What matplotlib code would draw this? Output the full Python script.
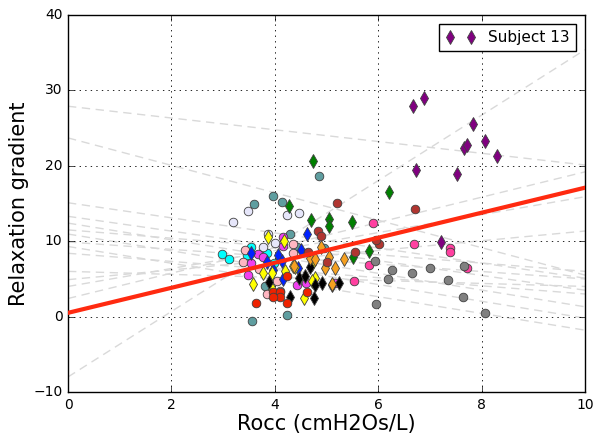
import matplotlib
matplotlib.use("Agg")
import matplotlib.pyplot as plt

plt.style.use("classic")
plt.rcParams['font.family'] = ['DejaVu Sans']

# ---- data -------------------------------------------------------------
# per-subject regression lines (value at Rocc=0 and Rocc=10)
line_y_at0 = [-8.0, 27.9, 23.7, 15.1, 13.3, 12.4, 11.5, 10.95, 9.9, 9.3, 8.4, 6.0, 4.9, 4.0, 2.4]
line_y_at10 = [35.4, 20.1, 5.5, 5.1, 3.5, 1.3, 6.0, -0.2, 5.0, -1.8, 3.0, 4.0, 11.35, 15.9, 19.2]

# overall regression line
fit_y_at0 = 0.5
fit_y_at10 = 17.1

cyan_x = [2.97, 3.12, 3.53, 3.84, 3.46, 3.99]
cyan_y = [8.35, 7.64, 9.19, 8.40, 8.17, 7.07]

teal_x = [4.85, 3.97, 3.60, 4.13, 4.29, 4.42, 3.80, 4.24, 3.55, 4.95]
teal_y = [18.7, 16.0, 15.0, 15.2, 11.0, 9.2, 4.06, 0.25, -0.62, 9.14]

lavender_x = [3.49, 3.20, 4.24, 4.47, 3.87, 4.00, 3.78]
lavender_y = [14.05, 12.6, 13.5, 13.8, 10.95, 9.8, 9.2]

pink_x = [3.42, 3.39, 3.84, 4.10, 4.35, 4.04, 4.35, 3.70]
pink_y = [8.83, 7.28, 2.96, 3.40, 9.63, 4.72, 8.40, 6.30]

magenta_x = [3.68, 3.77, 3.49, 3.54, 4.16, 4.42, 4.60, 5.16, 4.16]
magenta_y = [8.26, 7.95, 5.52, 7.07, 9.36, 4.19, 4.41, 4.50, 10.6]

blue_x = [4.63, 3.54, 4.07, 4.13, 3.84, 4.50, 4.15, 3.97, 4.45]
blue_y = [10.95, 8.48, 8.17, 7.37, 7.24, 8.83, 4.94, 6.14, 6.49]

yellow_x = [3.87, 4.18, 3.78, 3.95, 3.57, 3.95, 4.56, 4.77, 4.72, 4.39, 4.71, 4.20, 4.36]
yellow_y = [10.5, 10.0, 5.82, 5.74, 4.28, 3.62, 2.43, 5.16, 6.98, 6.54, 4.76, 6.09, 6.75]

black_x = [3.89, 4.29, 4.75, 4.47, 4.58, 4.68, 4.78, 4.91, 5.25, 5.10]
black_y = [4.63, 2.64, 2.51, 5.08, 5.38, 6.62, 4.19, 4.41, 4.41, 4.20]

red_x = [3.63, 3.96, 4.10, 4.10, 3.96, 4.24, 4.23, 4.63]
red_y = [1.76, 3.30, 3.30, 2.56, 2.64, 1.76, 5.42, 3.22]

orange_x = [4.68, 4.78, 4.97, 5.16, 5.33, 5.04, 4.89, 4.38, 5.10]
orange_y = [7.73, 7.64, 6.49, 6.40, 7.68, 7.86, 9.19, 6.71, 4.28]

green_x = [4.73, 6.21, 4.27, 4.70, 5.05, 5.05, 5.50, 5.83, 5.51]
green_y = [20.6, 16.5, 14.7, 12.8, 12.9, 12.0, 12.6, 8.70, 7.86]

brown_x = [5.20, 4.83, 4.89, 4.64, 5.55, 6.02, 5.96, 5.00, 6.71]
brown_y = [15.1, 11.4, 10.7, 8.60, 8.53, 9.60, 10.2, 7.28, 14.27]

hotpink_x = [6.69, 7.39, 7.38, 7.72, 5.89, 5.82, 5.54]
hotpink_y = [9.63, 9.14, 8.60, 6.40, 12.45, 6.84, 4.77]

grey_x = [6.66, 7.01, 7.34, 7.65, 7.63, 8.07, 5.94, 6.26, 6.18, 5.95]
grey_y = [5.74, 6.49, 4.85, 6.70, 2.64, 0.44, 7.37, 6.18, 4.99, 1.67]

subj13_x = [6.68, 6.89, 7.83, 7.65, 7.72, 8.07, 8.30, 6.73, 7.53, 7.21]
subj13_y = [27.97, 28.95, 25.5, 22.4, 22.7, 23.25, 21.3, 19.4, 18.95, 9.9]

x_ticks = [0, 2, 4, 6, 8, 10]
y_ticks = [-10, 0, 10, 20, 30, 40]

# ---- figure -------------------------------------------------------------
fig = plt.figure(figsize=(5.94, 4.36), dpi=100, facecolor='white')
ax = fig.add_axes([0.1145, 0.1009, 0.8705, 0.8647])
ax.set_facecolor('white')

for y0, y10 in zip(line_y_at0, line_y_at10):
    ax.plot([0, 10], [y0, y10], linestyle='--', color='#d9d9d9', lw=1.0,
            dashes=(6, 4), zorder=1)

groups = [
    (cyan_x, cyan_y, '#00ffff', 'o'),
    (teal_x, teal_y, '#5f9ea0', 'o'),
    (lavender_x, lavender_y, '#e6e6fa', 'o'),
    (pink_x, pink_y, '#ffb6c1', 'o'),
    (magenta_x, magenta_y, '#f040f0', 'o'),
    (blue_x, blue_y, '#0022ff', 'd'),
    (yellow_x, yellow_y, '#ffff00', 'd'),
    (black_x, black_y, '#000000', 'd'),
    (red_x, red_y, '#ee2200', 'o'),
    (orange_x, orange_y, '#f5a020', 'd'),
    (green_x, green_y, '#008000', 'd'),
    (brown_x, brown_y, '#b03530', 'o'),
    (hotpink_x, hotpink_y, '#ff40a0', 'o'),
    (grey_x, grey_y, '#808080', 'o'),
]
for xs, ys, c, m in groups:
    ax.plot(xs, ys, linestyle='none', marker=m, markersize=6.2 if m == 'o' else 7.2,
            markerfacecolor=c, markeredgecolor='#404040', markeredgewidth=0.6, zorder=3)

ax.plot(subj13_x, subj13_y, linestyle='none', marker='d', markersize=7.2,
        markerfacecolor='#800080', markeredgecolor='#404040', markeredgewidth=0.6,
        zorder=3, label='Subject 13')

ax.plot([0, 10], [fit_y_at0, fit_y_at10], color='#ff2a10', lw=3, zorder=4)

ax.set_xlim(0, 10)
ax.set_ylim(-10, 40)
ax.set_xticks(x_ticks)
ax.set_yticks(y_ticks)
ax.tick_params(labelsize=10)
ax.grid(True, linestyle=':', color='black', lw=0.6)
ax.set_xlabel('Rocc (cmH2Os/L)', fontsize=15, labelpad=2)
ax.set_ylabel('Relaxation gradient', fontsize=15, labelpad=3)
leg = ax.legend(loc='upper right', numpoints=2, fontsize=11, fancybox=False,
                borderaxespad=0.6)
leg.get_frame().set_edgecolor('black')

fig.savefig('out.png', dpi=100, facecolor='white')
